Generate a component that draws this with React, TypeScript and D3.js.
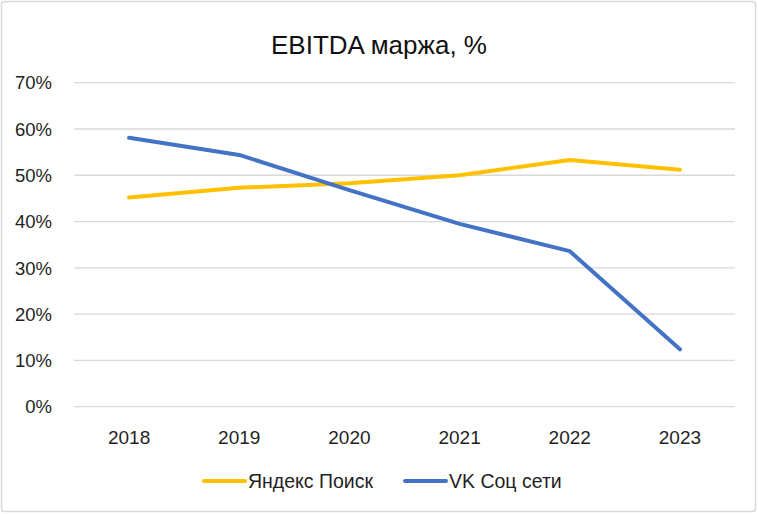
import React from "react";
import * as d3 from "d3";

const years = ["2018", "2019", "2020", "2021", "2022", "2023"];
const yandex = [45.2, 47.3, 48.3, 50.0, 53.3, 51.2];
const vk = [58.1, 54.4, 46.8, 39.5, 33.6, 12.4];
const yTicks = [0, 10, 20, 30, 40, 50, 60, 70];
const seriesNames = ["Яндекс Поиск", "VK Соц сети"];
const colors = ["#FFC000", "#4472C4"];

const W = 758, H = 514;
const FONT = "'Liberation Sans', Arial, sans-serif";

export default function App() {
  const x = d3.scalePoint<string>().domain(years).range([74, 735]).padding(0.5);
  const y = d3.scaleLinear().domain([0, 70]).range([406.7, 82.7]);
  const line = d3.line<number>().x((_, i) => x(years[i])!).y((d) => y(d));
  const series = [yandex, vk];
  const legendX = [204, 405];
  return (
    <svg width={W} height={H} style={{ position: "absolute", left: 0, top: 0 }} fontFamily={FONT}>
      <rect x={0} y={0} width={W} height={H} fill="#fff" />
      <rect x={1.5} y={1.5} width={754} height={510} rx={3} fill="#fff" stroke="#D9D9D9" strokeWidth={1.5} />
      <text x={379} y={54} textAnchor="middle" fontSize={26} fill="#111">EBITDA маржа, %</text>
      {yTicks.map((t) => (
        <g key={t}>
          <line x1={74} x2={735} y1={y(t)} y2={y(t)} stroke="#D9D9D9" strokeWidth={1.3} />
          <text x={52} y={y(t)} dy="0.36em" textAnchor="end" fontSize={18.5} fill="#1f1f1f">{t}%</text>
        </g>
      ))}
      {years.map((yr) => (
        <text key={yr} x={x(yr)} y={444} textAnchor="middle" fontSize={19} fill="#1f1f1f">{yr}</text>
      ))}
      {series.map((s, i) => (
        <path key={i} d={line(s)!} fill="none" stroke={colors[i]} strokeWidth={4} strokeLinecap="round" strokeLinejoin="round" />
      ))}
      {seriesNames.map((n, i) => {
        const lx = legendX[i];
        return (
          <g key={n}>
            <line x1={lx} x2={lx + 41} y1={481} y2={481} stroke={colors[i]} strokeWidth={4} strokeLinecap="round" />
            <text x={lx + 44} y={481} dy="0.36em" fontSize={19.5} fill="#1f1f1f">{n}</text>
          </g>
        );
      })}
    </svg>
  );
}
